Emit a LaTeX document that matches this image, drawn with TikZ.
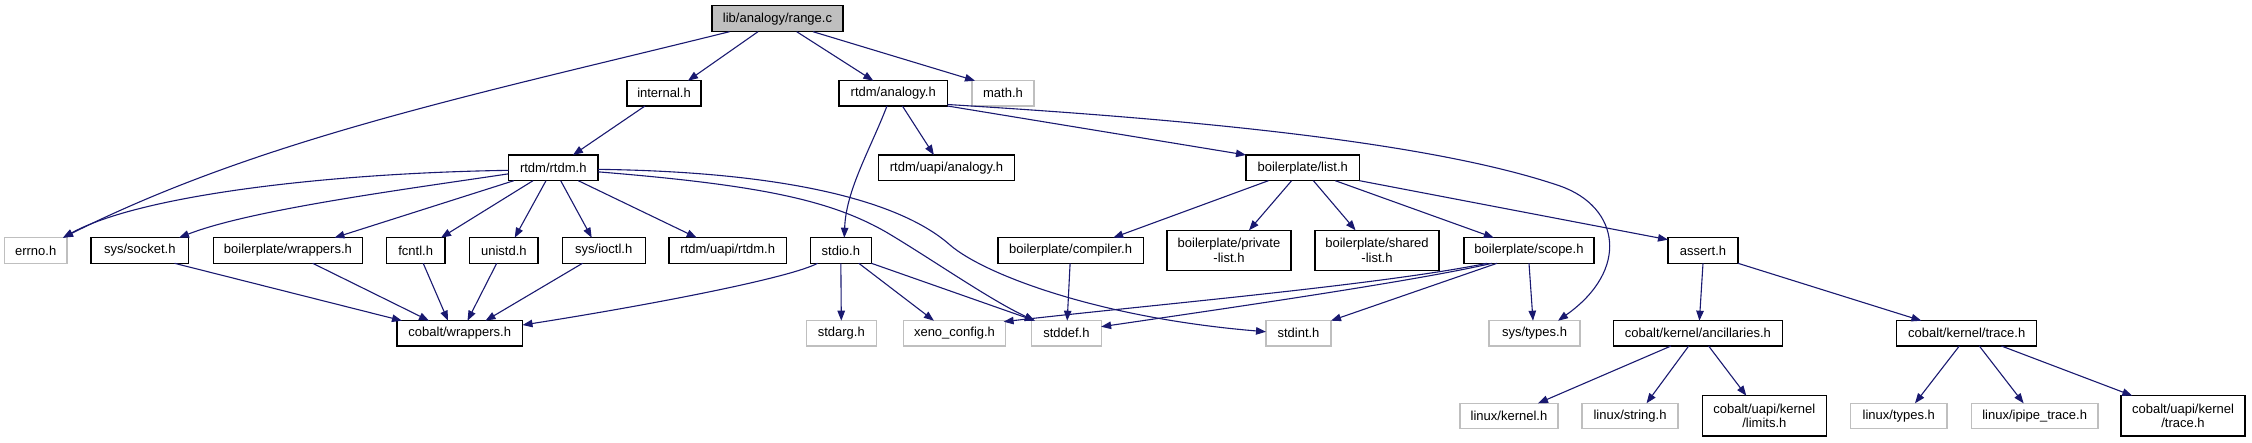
\documentclass[tikz,border=0pt]{standalone}
\usepackage{fontspec}
\setmainfont{Liberation Sans}
\usetikzlibrary{arrows.meta,calc}
\definecolor{edgeblue}{HTML}{191970}
\definecolor{graybox}{HTML}{BFBFBF}
\tikzset{
  hbox/.style={draw=black, line width=1.1pt, fill=white, inner sep=0pt, outer sep=0pt,
    font=\fontsize{13}{14.5}\selectfont, align=center},
  gbox/.style={hbox, draw=graybox},
  rootbox/.style={hbox, fill=graybox},
  dep/.style={draw=edgeblue, line width=1.1pt, -{Triangle[length=10pt,width=7.5pt]}},
}
\newcommand\mkbox[7]{%
  \pgfmathsetmacro\myX{(#3+#4)/2}\pgfmathsetmacro\myY{(#5+#6)/2}%
  \pgfmathsetmacro\myW{#4-#3}\pgfmathsetmacro\myH{#6-#5}%
  \node[#1, minimum width=\myW pt, minimum height=\myH pt] (#2) at (\myX,\myY) {#7};}
\begin{document}
\begin{tikzpicture}[x=1pt,y=-1pt]
\useasboundingbox (0,0) rectangle (2252,443);
% row 0
\mkbox{rootbox}{rangec}{712}{843}{5.7}{31.7}{lib/analogy/range.c}
% row 1
\mkbox{hbox}{internal}{627}{701}{80.7}{106}{internal.h}
\mkbox{hbox}{analogy}{839}{947.5}{80.7}{106}{rtdm/analogy.h}
\mkbox{gbox}{math}{972}{1034}{80.7}{106}{math.h}
% row 2
\mkbox{hbox}{rtdm}{508.5}{598}{155}{180.7}{rtdm/rtdm.h}
\mkbox{hbox}{uapianalogy}{878.6}{1014.4}{155}{180.7}{rtdm/uapi/analogy.h}
\mkbox{hbox}{list}{1246}{1359.5}{155}{180.7}{boilerplate/list.h}
% row 3
\mkbox{gbox}{errno}{4.4}{67}{237.7}{263.3}{errno.h}
\mkbox{hbox}{socket}{91}{188.6}{237.7}{263.3}{sys/socket.h}
\mkbox{hbox}{bwrappers}{213.3}{362.6}{237.7}{263.3}{boilerplate/wrappers.h}
\mkbox{hbox}{fcntl}{386.3}{445}{237.7}{263.3}{fcntl.h}
\mkbox{hbox}{unistd}{469.7}{538}{237.7}{263.3}{unistd.h}
\mkbox{hbox}{ioctl}{562.3}{645.2}{237.7}{263.3}{sys/ioctl.h}
\mkbox{hbox}{uapirtdm}{669}{786.5}{237.7}{263.3}{rtdm/uapi/rtdm.h}
\mkbox{hbox}{stdio}{810.3}{871.4}{237.7}{263.3}{stdio.h}
\mkbox{hbox}{compiler}{998}{1143.3}{237.7}{263.3}{boilerplate/compiler.h}
\mkbox{hbox}{privlist}{1167}{1291}{230.3}{270.3}{boilerplate/private\\-list.h}
\mkbox{hbox}{sharedlist}{1315}{1439}{230.3}{270.3}{boilerplate/shared\\-list.h}
\mkbox{hbox}{scope}{1464}{1594}{237.7}{263.3}{boilerplate/scope.h}
\mkbox{hbox}{assert}{1668}{1738}{237.7}{263.3}{assert.h}
% row 4
\mkbox{hbox}{cwrappers}{397}{522.5}{320.7}{346}{cobalt/wrappers.h}
\mkbox{gbox}{stdarg}{806.4}{876.2}{320.7}{346}{stdarg.h}
\mkbox{gbox}{xeno}{903.4}{1005.6}{320.7}{346}{xeno\_config.h}
\mkbox{gbox}{stddef}{1031.8}{1101.1}{320.7}{346}{stddef.h}
\mkbox{gbox}{stdint}{1266}{1331}{320.7}{346}{stdint.h}
\mkbox{gbox}{systypes}{1489}{1580}{320.7}{346}{sys/types.h}
\mkbox{hbox}{ancillaries}{1613.6}{1782.3}{320.7}{346}{cobalt/kernel/ancillaries.h}
\mkbox{hbox}{ktrace}{1896.7}{2036.8}{320.7}{346}{cobalt/kernel/trace.h}
% row 5
\mkbox{gbox}{lkernel}{1460}{1558}{403.3}{428.7}{linux/kernel.h}
\mkbox{gbox}{lstring}{1582}{1678}{403.3}{428.7}{linux/string.h}
\mkbox{hbox}{limits}{1702.3}{1826.4}{395.7}{436}{cobalt/uapi/kernel\\/limits.h}
\mkbox{gbox}{ltypes}{1850.6}{1947}{403.3}{428.7}{linux/types.h}
\mkbox{gbox}{ipipe}{1971.3}{2098}{403.3}{428.7}{linux/ipipe\_trace.h}
\mkbox{hbox}{utrace}{2121}{2245}{395.7}{436}{cobalt/uapi/kernel\\/trace.h}

% edges from range.c
\draw[dep] ($(rangec.south west)+(17.5,0)$) .. controls (479.5,93.7) and (263,137.7) .. ($(errno.north west)+(58.6,0)$);
\draw[dep] ($(rangec.south west)+(46,0)$) -- ($(internal.north west)+(61,0)$);
\draw[dep] ($(rangec.south west)+(84.7,0)$) -- ($(analogy.north west)+(34.3,0)$);
\draw[dep] ($(rangec.south west)+(101,0)$) -- ($(math.north west)+(3,0)$);
% internal.h
\draw[dep] ($(internal.south west)+(18,0)$) -- ($(rtdm.north west)+(64.5,0)$);
% rtdm/rtdm.h
\draw[dep] ($(rtdm.west)+(0,2.5)$) .. controls (330,173) and (140,195) .. ($(errno.north west)+(58.6,0)$);
\draw[dep] ($(rtdm.west)+(0,6)$) .. controls (400,190) and (250,210) .. ($(socket.north west)+(88,0)$);
\draw[dep] ($(rtdm.south west)+(5.3,0)$) -- ($(bwrappers.north west)+(121.2,0)$);
\draw[dep] ($(rtdm.south west)+(24.5,0)$) -- ($(fcntl.north west)+(54.7,0)$);
\draw[dep] ($(rtdm.south west)+(37.5,0)$) -- ($(unistd.north west)+(45,0)$);
\draw[dep] ($(rtdm.south west)+(52.2,0)$) -- ($(ioctl.north west)+(29.4,0)$);
\draw[dep] ($(rtdm.south west)+(69.8,0)$) -- ($(uapirtdm.north west)+(27.7,0)$);
\draw[dep] ($(rtdm.east)+(0,1.5)$) .. controls (800,172) and (905,205) .. (950,245)
   .. controls (985,275) and (1100,318) .. ($(stdint.west)+(0,-1.6)$);
\draw[dep] ($(rtdm.east)+(0,4)$) .. controls (760,185) and (830,200) .. (886,232)
   .. controls (930,258) and (990,300) .. ($(stddef.north west)+(3,0)$);
% rtdm/analogy.h
\draw[dep] ($(analogy.south west)+(48,0)$) .. controls (870,150) and (846,190) .. ($(stdio.north west)+(34,0)$);
\draw[dep] ($(analogy.south west)+(63.4,0)$) -- ($(uapianalogy.north west)+(55.3,0)$);
\draw[dep] (analogy.south east) -- (list.north west);
\draw[dep] ($(analogy.south east)+(0,-1.5)$) .. controls (1150,117) and (1420,138) .. (1560,186)
   .. controls (1620,207) and (1630,270) .. ($(systypes.north east)+(-22,0)$);
% boilerplate/list.h
\draw[dep] ($(list.south west)+(22.4,0)$) -- ($(compiler.north west)+(115.2,0)$);
\draw[dep] ($(list.south west)+(45.6,0)$) -- ($(privlist.north west)+(82,0)$);
\draw[dep] ($(list.south west)+(67.4,0)$) -- ($(sharedlist.north west)+(40.6,0)$);
\draw[dep] ($(list.south west)+(89.3,0)$) -- ($(scope.north west)+(29.8,0)$);
\draw[dep] (list.south east) -- ($(assert.north west)+(0,2)$);
% stdio.h
\draw[dep] ($(stdio.south west)+(7.3,0)$) .. controls (790,278) and (650,305) .. ($(cwrappers.east)+(0,-8.3)$);
\draw[dep] (stdio.south) -- (stdarg.north);
\draw[dep] ($(stdio.south west)+(48.5,0)$) -- ($(xeno.north west)+(30.5,0)$);
\draw[dep] (stdio.south east) -- ($(stddef.north west)+(3,0)$);
% boilerplate/compiler.h
\draw[dep] ($(compiler.south west)+(72.1,0)$) -- ($(stddef.north west)+(35.4,0)$);
% boilerplate/scope.h
\draw[dep] ($(scope.south west)+(23,0)$) .. controls (1380,285) and (1150,305) .. ($(xeno.north east)+(-2,1)$);
\draw[dep] ($(scope.south west)+(28,0)$) .. controls (1420,280) and (1250,305) .. ($(stddef.east)+(0,-6.6)$);
\draw[dep] ($(scope.south west)+(33,0)$) -- (stdint.north east);
\draw[dep] ($(scope.south west)+(65,0)$) -- ($(systypes.north west)+(44,0)$);
% assert.h
\draw[dep] (assert.south) -- ($(ancillaries.north west)+(85.8,0)$);
\draw[dep] (assert.south east) -- ($(ktrace.north west)+(24.7,0)$);
% ancillaries
\draw[dep] ($(ancillaries.south west)+(57.4,0)$) -- ($(lkernel.north west)+(78,0)$);
\draw[dep] ($(ancillaries.south west)+(75.1,0)$) -- ($(lstring.north west)+(64.5,0)$);
\draw[dep] ($(ancillaries.south west)+(95,0)$) -- ($(limits.north west)+(44,0)$);
% kernel trace
\draw[dep] ($(ktrace.south west)+(62.6,0)$) -- ($(ltypes.north west)+(64.4,0)$);
\draw[dep] ($(ktrace.south west)+(82.6,0)$) -- ($(ipipe.north west)+(52.3,0)$);
\draw[dep] ($(ktrace.south west)+(104.7,0)$) -- ($(utrace.north west)+(11.3,0)$);
% into cobalt/wrappers.h
\draw[dep] ($(socket.south west)+(83.5,0)$) -- ($(cwrappers.north west)+(5,0)$);
\draw[dep] ($(bwrappers.south west)+(99.4,0)$) -- ($(cwrappers.north west)+(32,0)$);
\draw[dep] ($(fcntl.south west)+(36.9,0)$) -- ($(cwrappers.north west)+(51,0)$);
\draw[dep] ($(unistd.south west)+(27,0)$) -- ($(cwrappers.north west)+(70.5,0)$);
\draw[dep] ($(ioctl.south west)+(20.2,0)$) -- ($(cwrappers.north west)+(88.5,0)$);
\end{tikzpicture}
\end{document}
